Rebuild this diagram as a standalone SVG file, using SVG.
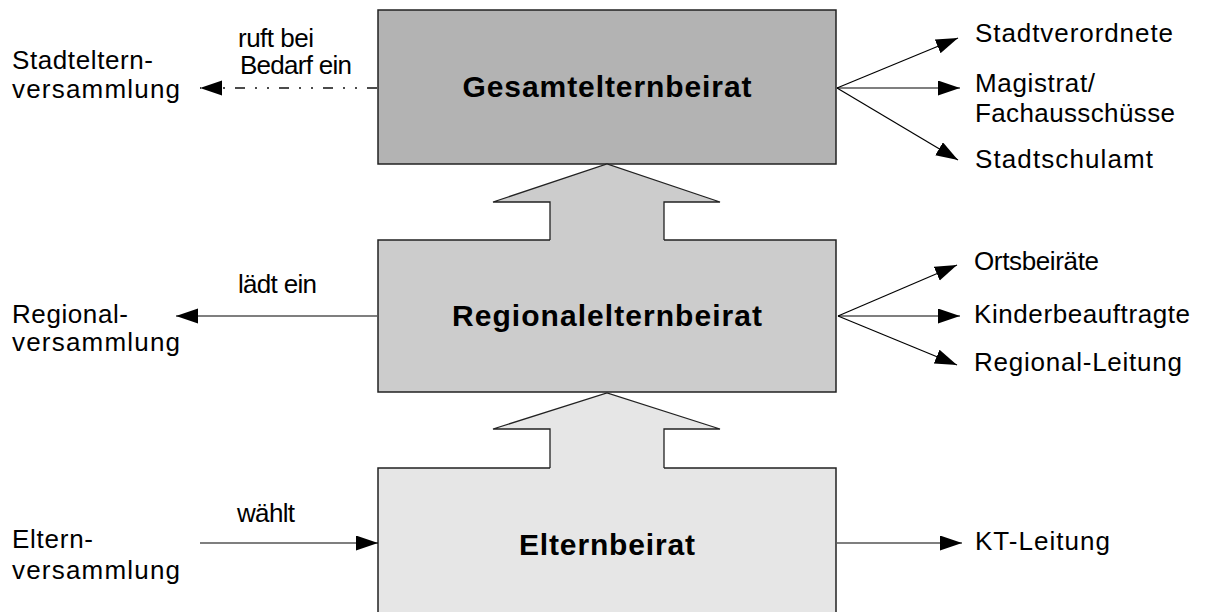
<svg xmlns="http://www.w3.org/2000/svg" width="1209" height="612" viewBox="0 0 1209 612">
<defs>
<marker id="ah" markerUnits="userSpaceOnUse" markerWidth="24" markerHeight="16" refX="22" refY="7.5" orient="auto">
<path d="M0,0 L22,7.5 L0,15 z" fill="#000"/>
</marker>
<style>
.box{stroke:#222;stroke-width:1.5}
.t{font-family:"Liberation Sans",Arial,sans-serif;font-size:26px;fill:#000}
.b{font-family:"Liberation Sans",Arial,sans-serif;font-size:30px;font-weight:bold;fill:#000;text-anchor:middle}
.c{stroke:#000;stroke-width:1.2;fill:none;marker-end:url(#ah)}
.d{stroke:#111;stroke-width:1.4;fill:none;stroke-dasharray:10 10 2 10 2 10;marker-end:url(#ah)}
.ol{stroke:#222;stroke-width:1.3;fill:none}
</style>
</defs>
<rect width="1209" height="612" fill="#fff"/>

<g id="gesamtelternbeirat">
<rect class="box" x="378" y="10" width="458" height="154" fill="#b3b3b3"/>
<text class="b" x="607" y="97" textLength="289">Gesamtelternbeirat</text>
</g>
<g id="regionalelternbeirat">
<rect class="box" x="378" y="240" width="458" height="152" fill="#cccccc"/>
<text class="b" x="607" y="326" textLength="310">Regionalelternbeirat</text>
</g>
<g id="elternbeirat">
<rect class="box" x="378" y="468" width="458" height="160" fill="#e6e6e6"/>
<text class="b" x="607" y="555" textLength="176">Elternbeirat</text>
</g>

<g id="arrow-up-1">
<path d="M607,164 L720,202 L664,202 L664,241 L550,241 L550,202 L493,202 z" fill="#cccccc"/>
<polyline class="ol" points="550,240 550,202 493,202 607,164 720,202 664,202 664,240"/>
</g>
<g id="arrow-up-2">
<path d="M607,393 L720,429 L664,429 L664,469 L550,469 L550,429 L493,429 z" fill="#e6e6e6"/>
<polyline class="ol" points="550,468 550,429 493,429 607,393 720,429 664,429 664,468"/>
</g>

<g id="stadtelternversammlung">
<text class="t" x="12" y="69" textLength="141">Stadteltern-</text>
<text class="t" x="12" y="98" textLength="168">versammlung</text>
</g>
<g id="regionalversammlung">
<text class="t" x="12" y="323" textLength="116">Regional-</text>
<text class="t" x="12" y="351" textLength="168">versammlung</text>
</g>
<g id="elternversammlung">
<text class="t" x="12" y="548" textLength="81">Eltern-</text>
<text class="t" x="12" y="579" textLength="168">versammlung</text>
</g>

<g id="stadtverordnete"><text class="t" x="975" y="42" textLength="198">Stadtverordnete</text></g>
<g id="magistrat">
<text class="t" x="975" y="92" textLength="120">Magistrat/</text>
<text class="t" x="975" y="122" textLength="200">Fachausschüsse</text>
</g>
<g id="stadtschulamt"><text class="t" x="975" y="168" textLength="178">Stadtschulamt</text></g>
<g id="ortsbeiraete"><text class="t" x="974" y="270" textLength="125">Ortsbeiräte</text></g>
<g id="kinderbeauftragte"><text class="t" x="974" y="323" textLength="216">Kinderbeauftragte</text></g>
<g id="regional-leitung"><text class="t" x="974" y="371" textLength="208">Regional-Leitung</text></g>
<g id="kt-leitung"><text class="t" x="975" y="550" textLength="135">KT-Leitung</text></g>

<g id="connectors">
<line class="d" x1="377" y1="88" x2="200" y2="88"/>
<text class="t" x="238" y="47" textLength="76">ruft bei</text>
<text class="t" x="240" y="74" textLength="112">Bedarf ein</text>
<line class="c" x1="377" y1="316" x2="176" y2="316"/>
<text class="t" x="238" y="293" textLength="79">lädt ein</text>
<line class="c" x1="200" y1="543" x2="378" y2="543"/>
<text class="t" x="237" y="522" textLength="58">wählt</text>

<line class="c" x1="837" y1="88" x2="958" y2="38"/>
<line class="c" x1="837" y1="88" x2="960" y2="88"/>
<line class="c" x1="837" y1="88" x2="958" y2="160"/>
<line class="c" x1="838" y1="316" x2="957" y2="265"/>
<line class="c" x1="838" y1="316" x2="960" y2="316"/>
<line class="c" x1="838" y1="316" x2="957" y2="365"/>
<line class="c" x1="837" y1="543" x2="962" y2="543"/>
</g>
</svg>
